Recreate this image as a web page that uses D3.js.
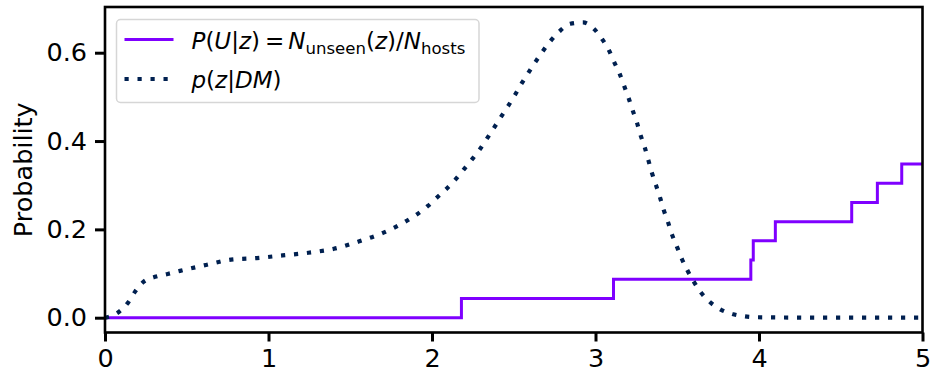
<!DOCTYPE html>
<html>
<head>
<meta charset="utf-8">
<script src="https://cdn.jsdelivr.net/npm/d3@7"></script>
<style>
  html, body { margin: 0; padding: 0; background: #fff; }
  svg { display: block; font-family: "DejaVu Sans", sans-serif; }
</style>
</head>
<body>
<svg id="chart" width="936" height="379"></svg>
<script>
// ---- data ----
const stepZ = [0, 2.18, 3.11, 3.95, 3.965, 4.10, 4.567, 4.724, 4.873, 5];
const stepP = [0, 0.0435, 0.087, 0.1305, 0.174, 0.2175, 0.261, 0.3045, 0.348, 0.348];

const dmZ = [0, 0.086, 0.143, 0.184, 0.235, 0.306, 0.383, 0.459, 0.618, 0.771, 0.928, 1.085, 1.244, 1.40, 1.556, 1.70, 1.846, 1.975, 2.032, 2.089, 2.144, 2.195, 2.246, 2.294, 2.339, 2.381, 2.424, 2.467, 2.510, 2.549, 2.592, 2.634, 2.681, 2.728, 2.781, 2.846, 2.924, 2.993, 3.042, 3.083, 3.115, 3.148, 3.176, 3.203, 3.227, 3.254, 3.276, 3.301, 3.323, 3.345, 3.37, 3.394, 3.417, 3.443, 3.468, 3.498, 3.527, 3.561, 3.602, 3.645, 3.698, 3.763, 3.837, 3.913, 3.994, 4.5, 5];
const dmP = [0, 0.0135, 0.035, 0.059, 0.081, 0.0925, 0.099, 0.106, 0.1195, 0.1315, 0.135, 0.141, 0.147, 0.156, 0.173, 0.192, 0.2195, 0.253, 0.2726, 0.292, 0.313, 0.336, 0.359, 0.382, 0.407, 0.431, 0.456, 0.480, 0.506, 0.531, 0.556, 0.580, 0.605, 0.628, 0.649, 0.6655, 0.6685, 0.653, 0.630, 0.605, 0.578, 0.552, 0.524, 0.497, 0.470, 0.441, 0.413, 0.386, 0.357, 0.328, 0.300, 0.273, 0.244, 0.217, 0.188, 0.161, 0.134, 0.108, 0.081, 0.057, 0.036, 0.019, 0.0084, 0.003, 0.001, 0.0, 0.0];

const xTicks = [0, 1, 2, 3, 4, 5];
const yTicks = [0.0, 0.2, 0.4, 0.6];
const yLabel = "Probability";

// ---- layout ----
const svg = d3.select("#chart");
const L = 105, R = 922.5, T = 7, B = 332.5;
const x = d3.scaleLinear().domain([0, 5]).range([L, R]);
const y = d3.scaleLinear().domain([-0.0335, 0.7035]).range([B, T]);
const FS = 25.5;
const LFS = 23;

const stepColor = "#7f00ff";
const dmColor = "#002050";

svg.append("clipPath").attr("id", "clip").append("rect")
  .attr("x", L).attr("y", T).attr("width", R - L).attr("height", B - T);

const plot = svg.append("g").attr("clip-path", "url(#clip)");

const stepData = stepZ.map((z, i) => [z, stepP[i]]);
plot.append("path")
  .datum(stepData)
  .attr("fill", "none")
  .attr("stroke", stepColor)
  .attr("stroke-width", 3)
  .attr("d", d3.line().x(d => x(d[0])).y(d => y(d[1])).curve(d3.curveStepAfter));

const dmData = dmZ.map((z, i) => [z, dmP[i]]);
plot.append("path")
  .datum(dmData)
  .attr("fill", "none")
  .attr("stroke", dmColor)
  .attr("stroke-width", 4.2)
  .attr("stroke-dasharray", "4.2,8.8")
  .attr("d", d3.line().x(d => x(d[0])).y(d => y(d[1])).curve(d3.curveMonotoneX));

const xAxis = d3.axisBottom(x).tickValues(xTicks).tickFormat(d3.format("d")).tickSize(9).tickPadding(7);
const yAxis = d3.axisLeft(y).tickValues(yTicks).tickFormat(d3.format(".1f")).tickSize(10).tickPadding(8);

const gx = svg.append("g").attr("transform", `translate(0,${B})`).call(xAxis);
const gy = svg.append("g").attr("transform", `translate(${L},0)`).call(yAxis);
[gx, gy].forEach(g => {
  g.select(".domain").remove();
  g.selectAll(".tick line").attr("stroke", "#000").attr("stroke-width", 3);
  g.selectAll(".tick text").attr("fill", "#000").attr("font-size", FS).attr("font-family", "DejaVu Sans");
});

svg.append("rect")
  .attr("x", L).attr("y", T).attr("width", R - L).attr("height", B - T)
  .attr("fill", "none").attr("stroke", "#000").attr("stroke-width", 2.6);

svg.append("text")
  .attr("transform", `translate(32,${(T + B) / 2}) rotate(-90)`)
  .attr("text-anchor", "middle")
  .attr("font-size", FS)
  .attr("fill", "#000")
  .text(yLabel);

// legend
const lg = svg.append("g");
lg.append("rect")
  .attr("x", 116.5).attr("y", 19.5).attr("width", 362.5).attr("height", 83)
  .attr("rx", 4).attr("ry", 4)
  .attr("fill", "#fff").attr("fill-opacity", 0.8)
  .attr("stroke", "#d6d6d6").attr("stroke-width", 1.5);

lg.append("line").attr("x1", 124.5).attr("x2", 173.5).attr("y1", 39.5).attr("y2", 39.5)
  .attr("stroke", stepColor).attr("stroke-width", 3);
lg.append("line").attr("x1", 124.5).attr("x2", 173.5).attr("y1", 79).attr("y2", 79)
  .attr("stroke", dmColor).attr("stroke-width", 4.2).attr("stroke-dasharray", "4.2,8.8");

function mathText(parent, xx, yy, parts) {
  const t = parent.append("text").attr("x", xx).attr("y", yy)
    .attr("font-size", LFS).attr("fill", "#000");
  parts.forEach(p => {
    const s = t.append("tspan").text(p.t);
    if (p.i) s.attr("font-style", "italic");
    if (p.sub) s.attr("font-size", LFS * 0.72).attr("dy", 5);
    if (p.up) s.attr("dy", -5);
    if (p.dx) s.attr("dx", p.dx);
  });
  return t;
}

mathText(lg, 191.5, 48.5, [
  {t: "P", i: 1}, {t: "("}, {t: "U", i: 1}, {t: "|"}, {t: "z", i: 1}, {t: ")"},
  {t: "=", dx: 5}, {t: "N", i: 1, dx: 4}, {t: "unseen", sub: 1}, {t: "(", up: 1}, {t: "z", i: 1}, {t: ")"}, {t: "/"},
  {t: "N", i: 1}, {t: "hosts", sub: 1}
]);
mathText(lg, 191.5, 87.5, [
  {t: "p", i: 1}, {t: "("}, {t: "z", i: 1}, {t: "|"}, {t: "DM", i: 1}, {t: ")"}
]);
</script>
</body>
</html>
